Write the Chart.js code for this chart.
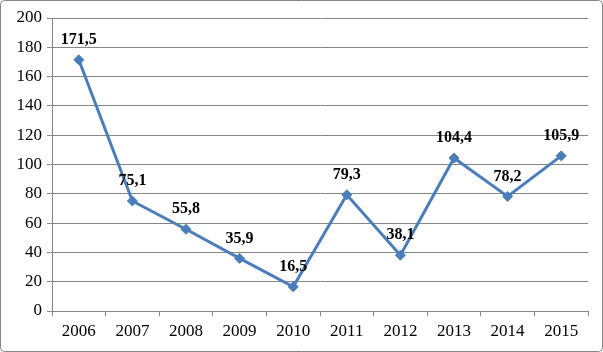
<!DOCTYPE html>
<html><head><meta charset="utf-8">
<script src="https://cdn.jsdelivr.net/npm/chart.js@4/dist/chart.umd.min.js"></script>
<style>html,body{margin:0;padding:0;background:#fff;}#wrap{width:603px;height:352px;position:relative;}</style>
</head><body><div id="wrap"><canvas id="c" width="603" height="352"></canvas></div>
<script>
const categories = ["2006","2007","2008","2009","2010","2011","2012","2013","2014","2015"];
const values = [171.5, 75.1, 55.8, 35.9, 16.5, 79.3, 38.1, 104.4, 78.2, 105.9];
const yTicks = [0,20,40,60,80,100,120,140,160,180,200];

const labelPlugin = {
  id: 'labels',
  afterDatasetsDraw(chart) {
    const ctx = chart.ctx;
    const meta = chart.getDatasetMeta(0);
    ctx.save();
    ctx.font = 'bold 16px "Liberation Serif", "Times New Roman", serif';
    ctx.fillStyle = '#000';
    ctx.textAlign = 'center';
    ctx.textBaseline = 'middle';
    meta.data.forEach((p, i) => {
      ctx.fillText(values[i].toFixed(1).replace('.', ','), p.x, p.y - 20);
    });
    ctx.restore();
  }
};
const borderPlugin = {
  id: 'border',
  afterDraw(chart) {
    const ctx = chart.ctx;
    ctx.save();
    ctx.strokeStyle = '#868686';
    ctx.lineWidth = 1;
    const w = chart.width, h = chart.height, r = 4;
    ctx.beginPath();
    ctx.roundRect(0.5, 0.5, w - 1, h - 1, r);
    ctx.stroke();
    ctx.restore();
  }
};

new Chart(document.getElementById('c'), {
  type: 'line',
  data: {
    labels: categories,
    datasets: [{
      data: values,
      borderColor: '#4a7ebb',
      backgroundColor: '#4a7ebb',
      borderWidth: 3,
      pointStyle: 'rectRot',
      pointRadius: 5,
      pointBorderWidth: 1,
      tension: 0
    }]
  },
  options: {
    responsive: false,
    animation: false,
    devicePixelRatio: 1,
    layout: { padding: { left: 0, right: 15, top: 18, bottom: 0 } },
    plugins: { legend: { display: false }, tooltip: { enabled: false } },
    scales: {
      x: {
        offset: true,
        afterFit(s) { s.height = 41; },
        grid: { offset: true, drawOnChartArea: false, color: '#868686', tickLength: 5 },
        border: { color: '#868686' },
        ticks: { color: '#000', padding: 5, font: { family: '"Liberation Serif", "Times New Roman", serif', size: 17 } }
      },
      y: {
        min: 0, max: 200,
        afterFit(s) { s.width = 52; },
        afterBuildTicks(s) { s.ticks = yTicks.map(v => ({ value: v })); },
        grid: { color: '#868686', tickLength: 5 },
        border: { color: '#868686' },
        ticks: { color: '#000', padding: 5, font: { family: '"Liberation Serif", "Times New Roman", serif', size: 17 } }
      }
    }
  },
  plugins: [labelPlugin, borderPlugin]
});
</script></body></html>
